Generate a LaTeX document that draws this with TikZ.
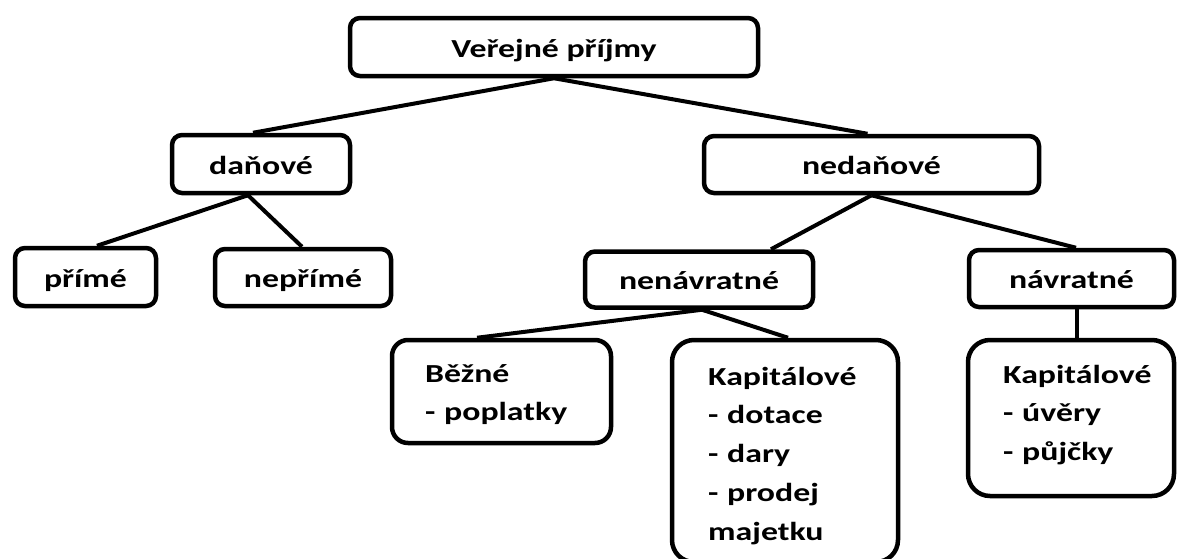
\documentclass[tikz,border=0pt]{standalone}
\usepackage{fontspec}
\setmainfont{Carlito}[FakeStretch=1.3]
\begin{document}
\begin{tikzpicture}[x=1pt,y=-1pt,
  box/.style={draw, line width=4.5pt, fill=white, rounded corners=10pt, inner sep=0pt,
    font=\fontsize{26}{39}\selectfont\bfseries, text height=20pt, text depth=0pt},
  bigbox/.style={draw, line width=4.5pt, fill=white, rounded corners=22pt, inner sep=0pt},
  itemtext/.style={anchor=base west, inner sep=0pt, text width=200pt, align=left,
    font=\fontsize{26}{38.8}\selectfont\bfseries},
  link/.style={line width=4pt}]
\useasboundingbox (0,0) rectangle (1179,558);

% top level
\node[box, minimum width=408pt, minimum height=58pt] (top) at (554,47) {Veřejné příjmy};

% second level
\node[box, minimum width=178pt, minimum height=58pt] (danove) at (261,164) {daňové};
\node[box, minimum width=335pt, minimum height=57pt] (nedanove) at (871.5,164.5) {nedaňové};

% third level
\node[box, minimum width=141pt, minimum height=58pt] (prime) at (85.5,277) {přímé};
\node[box, minimum width=176pt, minimum height=57pt] (neprime) at (303,277.5) {nepřímé};
\node[box, minimum width=228pt, minimum height=56pt] (nenavratne) at (699,279.5) {nenávratné};
\node[box, minimum width=205pt, minimum height=57pt] (navratne) at (1071.5,278.5) {návratné};

% fourth level
\node[bigbox, rounded corners=16pt, minimum width=219pt, minimum height=103pt] (bezne) at (501.5,391.5) {};
\node[bigbox, minimum width=226pt, minimum height=222pt] (kap1) at (785,451) {};
\node[bigbox, minimum width=206pt, minimum height=156pt] (kap2) at (1071,418) {};

\node[itemtext] (bezne-text) at (425,382) {Běžné\\- poplatky};
\node[itemtext] (kap1-text) at (708,385) {Kapitálové\\- dotace\\- dary\\- prodej\\majetku};
\node[itemtext] (kap2-text) at (1003,383) {Kapitálové\\- úvěry\\- půjčky};

% connectors
\draw[link] (top.south) -- ([xshift=-8pt]danove.north);
\draw[link] (top.south) -- ([xshift=-4pt]nedanove.north);
\draw[link] ([xshift=-13pt]danove.south) -- ([xshift=11.5pt]prime.north);
\draw[link] ([xshift=-13pt]danove.south) -- ([xshift=-1pt]neprime.north);
\draw[link] (nedanove.south) -- ([xshift=72pt]nenavratne.north);
\draw[link] (nedanove.south) -- ([xshift=4.5pt]navratne.north);
\draw[link] ([xshift=3pt]nenavratne.south) -- ([xshift=-24.5pt]bezne.north);
\draw[link] ([xshift=3pt]nenavratne.south) -- ([xshift=3pt]kap1.north);
\draw[link] ([xshift=5.5pt]navratne.south) -- ([xshift=6pt]kap2.north);
\end{tikzpicture}
\end{document}
